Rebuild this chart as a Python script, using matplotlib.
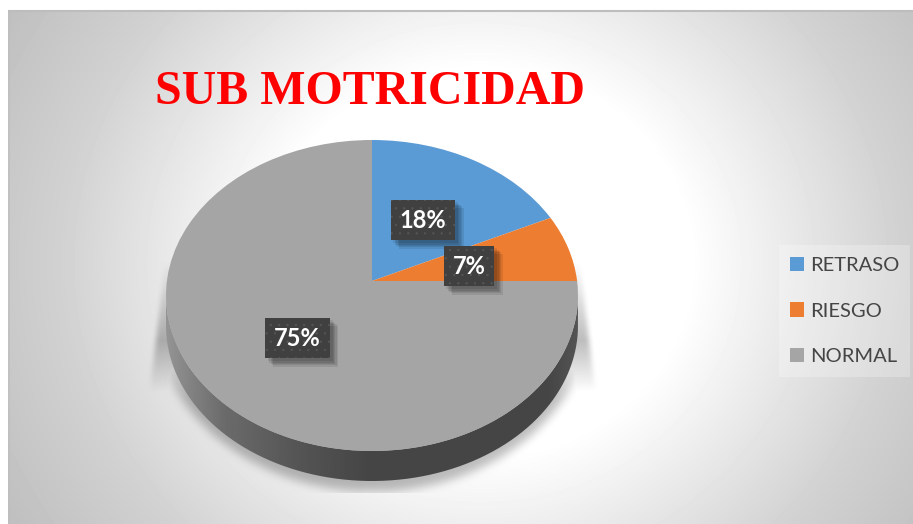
import numpy as np
import matplotlib
matplotlib.use("Agg")
import matplotlib.pyplot as plt
from matplotlib.patches import PathPatch, Rectangle
from matplotlib.path import Path
from matplotlib.transforms import Transform
import matplotlib.patheffects as pe

categories = ["RETRASO", "RIESGO", "NORMAL"]
values = [18, 7, 75]
colors = ["#5B9BD5", "#ED7D31", "#A5A5A5"]
title = "SUB MOTRICIDAD"

W, H = 913, 524
CX, CY, DEPTH = 372, 281, 30
TOP, BOT, HALF_W = 141, 170, 206          # apex to top / bottom / half width, px
K = (BOT - TOP) / (BOT + TOP)
SY = TOP * (1 + K)
SX = HALF_W * np.sqrt(1 - K ** 2)
plt.rcParams["hatch.linewidth"] = 0.4


class Tilt(Transform):
    """Perspective tilt of the unit disc, so the far half looks smaller."""
    input_dims = output_dims = 2

    def transform_non_affine(self, v):
        v = np.asarray(v, float)
        w = 1 + K * v[:, 1]
        return np.c_[v[:, 0] / w, v[:, 1] / w]

    def inverted(self):
        raise NotImplementedError


def box_blur(a, r):
    k = np.ones(2 * r + 1) / (2 * r + 1)
    for _ in range(3):
        a = np.apply_along_axis(lambda v: np.convolve(np.pad(v, r, mode="edge"), k, mode="valid"), 0, a)
        a = np.apply_along_axis(lambda v: np.convolve(np.pad(v, r, mode="edge"), k, mode="valid"), 1, a)
    return a


fig = plt.figure(figsize=(W / 100, H / 100), dpi=100, facecolor="white")

# background panel: radial gradient with the soft shadow under the pie
bg = fig.add_axes([0, 0, 1, 1])
bg.set_xlim(0, W)
bg.set_ylim(H, 0)
bg.axis("off")
yy, xx = np.mgrid[0:H, 0:W]
d = np.hypot((xx - 480) / 210, (yy - 262) / 193)
grad = np.interp(d, [1.0, 2.0, 2.6], [1.0, 0.82, 0.75])
glow = (((xx - CX) / (HALF_W + 12)) ** 2 + ((yy - (CY + DEPTH)) / (BOT + 10)) ** 2 < 1)
glow = box_blur(glow.astype(float), 4) * np.interp(yy, [340, 400], [0, 1])
inset = (385 - yy) * 15 / 125
flare = (xx > 150 + inset) & (xx < 594 - inset) & (yy > 260) & (yy < 392)
flare = box_blur(flare.astype(float), 2) * np.interp(yy, [260, 340, 392], [0, 1, 0])
sh = np.maximum(glow, flare)
sh[yy > 492] = 0
grad = grad * (1 - 0.26 * sh)
panel = bg.imshow(grad, cmap="gray", vmin=0, vmax=1, extent=(0, W, H, 0), aspect="auto", interpolation="bilinear")
panel.set_clip_path(Rectangle((8, 10), W - 8, H - 10, transform=bg.transData))
bg.plot([8, W], [10.5, 10.5], color="#bdbdbd", lw=1.5, solid_capstyle="butt")
bg.add_patch(Rectangle((8, 10), 2, H - 10, facecolor="#bdbdbd", edgecolor="none", alpha=0.6))
bg.set_xlim(0, W)
bg.set_ylim(H, 0)

# pie
ax = fig.add_axes([0, 0, 1, 1])
ax.patch.set_alpha(0)
wedges, _ = ax.pie(values, colors=colors, startangle=90, counterclock=False, radius=1)
tilt = Tilt()
for w in wedges:
    w.set_zorder(3)
    w.set_transform(tilt + ax.transData)

# side wall, from the tilted rim
t = np.linspace(0, 2 * np.pi, 720)
rim = tilt.transform(np.c_[np.cos(t), np.sin(t)])
rim = np.roll(rim, -np.argmin(rim[:, 0]), axis=0)
rim = rim[: np.argmax(rim[:, 0]) + 1]
dy = DEPTH / SY
verts = np.r_[rim, (rim - [0, dy])[::-1], rim[:1]]
wall_clip = PathPatch(Path(verts), facecolor="none", edgecolor="none", transform=ax.transData)
ax.add_patch(wall_clip)
edge = rim[:, 0].max()
gx = np.linspace(-1, 1, 400)
shade = np.interp(gx, [-1, -0.72, -0.35, 0, 0.85, 1], [0.58, 0.42, 0.33, 0.27, 0.27, 0.33])
wall = ax.imshow(shade[None, :], cmap="gray", vmin=0, vmax=1, aspect="auto",
                 extent=(-edge, edge, rim[:, 1].min() - dy, rim[:, 1].max()), zorder=1)
wall.set_clip_path(wall_clip)
ax.set_aspect("auto")
ax.set_xlim((0 - CX) / SX, (W - CX) / SX)
ax.set_ylim((CY - H) / SY, CY / SY)

# percentage labels
label_px = [(423, 220), (469, 266), (297.5, 338)]
for val, (px, py) in zip(values, label_px):
    x, y = (px - CX) / SX, (CY - py) / SY
    base = ax.text(x, y, f"{val}%", color="white", fontsize=17, fontweight="bold", family="Lato",
                   ha="center", va="center", zorder=5,
                   bbox=dict(boxstyle="square,pad=0.38", facecolor="#404040", edgecolor="none"))
    fx = [pe.SimplePatchShadow(offset=(o, -o), shadow_rgbFace="black", alpha=0.09, rho=1) for o in (6, 5, 4, 3, 2)]
    base.get_bbox_patch().set_path_effects(fx + [pe.Normal()])
    ax.text(x, y, f"{val}%", color="white", fontsize=17, fontweight="bold", family="Lato",
            ha="center", va="center", zorder=6,
            bbox=dict(boxstyle="square,pad=0.38", facecolor="#404040", edgecolor="#565656",
                      hatch="..", linewidth=0))

# title
fig.text(370 / W, 1 - 92 / H, title, color="#FF0000", fontsize=34.5, fontweight="bold",
         family="Liberation Serif", ha="center", va="center")

# legend
leg = fig.legend(wedges, categories, loc="center", bbox_to_anchor=(844.5 / W, 1 - 311 / H),
                 prop=dict(family="Lato", size=14.5), labelcolor="#454545", frameon=True, fancybox=False,
                 facecolor="white", edgecolor="none", framealpha=0.25,
                 handlelength=0.7, handleheight=0.7, handletextpad=0.3,
                 labelspacing=1.43, borderpad=0.55, borderaxespad=0)
leg.set_zorder(10)

fig.savefig("out.png", dpi=100)
